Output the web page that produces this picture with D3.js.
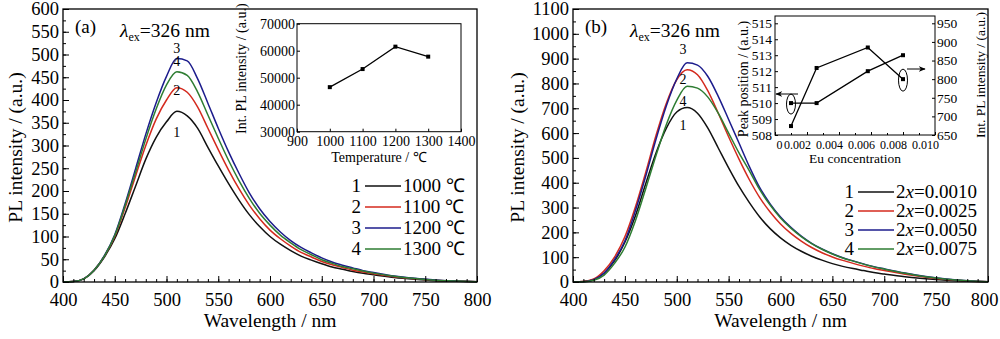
<!DOCTYPE html>
<html><head><meta charset="utf-8">
<script src="https://cdn.jsdelivr.net/npm/d3@7"></script>
<style>
body{margin:0;background:#fff;}
svg{display:block;}
text{font-family:"Liberation Serif","Times New Roman",serif;fill:#000;}
</style></head>
<body><svg id="c" width="1000" height="339"></svg>
<script>
// ---------- DATA ----------
const wavelengths = [400,410,420,430,440,450,460,470,480,490,500,510,520,530,540,550,560,570,580,590,600,610,620,630,640,650,660,670,680,690,700,720,740,760,780,800];

// Panel (a): annealing temperature series
const tempLabels = ["1000 \u2103","1100 \u2103","1200 \u2103","1300 \u2103"];
const a1 = [0,1,7,25,55,95,150,210,270,318,352,375,365,338,296,255,216,180,148,122,100,83,69,57,48,40,33,28,23,19,16,10,6,3,1.5,0.5];
const a2 = [0,1,7,26,57,100,163,232,300,358,400,427,417,385,338,291,246,205,169,139,114,95,79,65,55,45,38,32,26,22,18,11.5,7,4,2,0.5];
const a3 = [0,1,7,26,58,104,172,248,325,394,452,491,486,447,393,338,286,239,196,161,133,110,91,76,64,53,44,37,31,25,21,13,8,4.5,2,0.5];
const a4 = [0,1,7,26,57,102,168,240,314,380,433,462,454,418,367,316,267,223,184,151,125,103,86,71,60,49,41,34,29,24,19.5,12.5,7.5,4,2,0.5];

// Panel (b): Eu concentration series
const concLabels = ["2x=0.0010","2x=0.0025","2x=0.0050","2x=0.0075"];
const b1 = [0,2,10,35,85,160,265,395,520,620,685,703,680,620,540,460,385,320,262,215,178,148,124,104,88,74,63,54,46,38,32,21,13,7,3,1];
const b2 = [0,2,12,45,100,182,300,440,590,720,815,855,835,770,680,585,495,412,340,282,234,196,165,139,118,101,87,75,64,54,46,31,19,10,4,1];
const b3 = [0,1,9,36,90,165,285,425,575,710,818,883,874,828,748,655,560,465,380,315,262,220,185,156,133,114,98,85,73,62,53,36,22,12,5,1];
const b4 = [0,1,7,28,75,140,245,375,510,635,732,789,781,745,680,600,520,448,372,310,258,217,183,155,132,113,97,84,72,61,52,35,21,11,5,1];

const colors = ["#111111","#d42a1e","#1c1c8c","#2e7d32"];

// Insets
const insetTemp = [1000,1100,1200,1300];
const insetIntA = [46500,53200,61500,57800];
const euConc = [0.001,0.0026,0.0058,0.008];
const peakPos = [510,510,512,513];
const intPL = [674,830,885,800];

// ---------- DRAW ----------
const svg = d3.select("#c");
const FS = 18.5;

function panel(o){
  const g = svg.append("g");
  const x = d3.scaleLinear().domain([400,800]).range([o.x0,o.x1]);
  const y = d3.scaleLinear().domain([0,o.ymax]).range([o.y1,o.y0]);
  const line = d3.line().x((d,i)=>x(wavelengths[i])).y(d=>y(d)).curve(d3.curveMonotoneX);
  o.series.forEach((s,i)=>{
    g.append("path").attr("d",line(s)).attr("fill","none").attr("stroke",colors[i]).attr("stroke-width",1.5);
  });
  g.append("rect").attr("x",o.x0).attr("y",o.y0).attr("width",o.x1-o.x0).attr("height",o.y1-o.y0)
    .attr("fill","none").attr("stroke","#000").attr("stroke-width",1.3);
  g.append("g").attr("class","xt").attr("transform",`translate(0,${o.y1})`)
    .call(d3.axisBottom(x).tickValues(d3.range(400,801,50)).tickSize(-6).tickPadding(11).tickFormat(d3.format("d")));
  g.append("g").attr("transform",`translate(0,${o.y1})`)
    .call(d3.axisBottom(x).tickValues(d3.range(400,801,10)).tickSize(-3).tickFormat(""));
  g.append("g").attr("transform",`translate(${o.x0},0)`)
    .call(d3.axisLeft(y).tickValues(d3.range(0,o.ymax+1,o.ystep)).tickSize(-6).tickPadding(4).tickFormat(d3.format("d")));
  g.append("g").attr("transform",`translate(${o.x0},0)`)
    .call(d3.axisLeft(y).tickValues(d3.range(0,o.ymax+1,o.ystep/2)).tickSize(-3).tickFormat(""));
  g.selectAll(".domain").remove();
  g.selectAll(".tick line").attr("stroke","#000").attr("stroke-width",1);
  g.selectAll(".tick text").attr("font-size",FS).attr("font-family","Liberation Serif").attr("fill","#000");
  if(o.lastShift) g.selectAll(".xt .tick:last-of-type text").attr("dx",o.lastShift);
  g.append("text").attr("x",(o.x0+o.x1)/2).attr("y",327).attr("text-anchor","middle").attr("font-size",19.5).text("Wavelength / nm");
  g.append("text").attr("transform",`translate(${o.x0-o.ytOff},${(o.y0+o.y1)/2+2}) rotate(-90)`).attr("text-anchor","middle").attr("font-size",19.5).text("PL intensity / (a.u.)");
  g.append("text").attr("x",o.x0+12).attr("y",33).attr("font-size",19).text(o.tag);
  const ex = g.append("text").attr("x",o.x0+57).attr("y",37).attr("font-size",19.5);
  ex.append("tspan").attr("font-style","italic").text("\u03BB");
  ex.append("tspan").attr("font-size",12).attr("dy",4).text("ex");
  ex.append("tspan").attr("dy",-4).text("=326 nm");
  o.nums.forEach(n=>{
    g.append("text").attr("x",x(n[1])).attr("y",n[2]).attr("text-anchor","middle").attr("font-size",14).text(n[0]);
  });
  o.legend.forEach((t,i)=>{
    const ly = o.ly + i*o.lstep;
    g.append("text").attr("x",o.lx-4).attr("y",ly+6).attr("text-anchor","end").attr("font-size",19).text(i+1);
    g.append("line").attr("x1",o.lx).attr("x2",o.lx+36).attr("y1",ly).attr("y2",ly).attr("stroke",colors[i]).attr("stroke-width",1.5);
    const tt = g.append("text").attr("x",o.lx+38).attr("y",ly+6).attr("font-size",19);
    if(t.startsWith("2x")){
      tt.append("tspan").text("2");
      tt.append("tspan").attr("font-style","italic").text("x");
      tt.append("tspan").text(t.slice(2));
    } else tt.text(t);
  });
  return {x,y};
}

panel({x0:63,x1:477,y0:9,y1:282,ymax:600,ystep:50,series:[a1,a2,a3,a4],tag:"(a)",ytOff:41,
  nums:[["3",510,53],["4",510,66],["2",510,95],["1",510,137]],
  legend:tempLabels,lx:365,ly:186,lstep:21});
panel({x0:573,x1:988,y0:9,y1:282,ymax:1100,ystep:100,series:[b1,b2,b3,b4],tag:"(b)",ytOff:49,lastShift:-4,
  nums:[["3",506,54],["2",506,84],["4",506,106],["1",506,130]],
  legend:concLabels,lx:858,ly:192,lstep:19});

// ---------- Inset (a) ----------
(function(){
  const g = svg.append("g");
  const x0=297,x1=461,y0=23.7,y1=131.7;
  const x = d3.scaleLinear().domain([900,1400]).range([x0,x1]);
  const y = d3.scaleLinear().domain([30000,70000]).range([y1,y0]);
  g.append("rect").attr("x",x0).attr("y",y0).attr("width",x1-x0).attr("height",y1-y0).attr("fill","#fff").attr("stroke","#000").attr("stroke-width",1);
  g.append("g").attr("transform",`translate(0,${y1})`).call(d3.axisBottom(x).tickValues(d3.range(900,1401,100)).tickSize(-3).tickPadding(4).tickFormat(d3.format("d")));
  g.append("g").attr("transform",`translate(${x0},0)`).call(d3.axisLeft(y).tickValues(d3.range(30000,70001,10000)).tickSize(-3).tickPadding(2).tickFormat(d3.format("d")));
  g.selectAll(".domain").remove();
  g.selectAll(".tick line").attr("stroke","#000");
  g.selectAll(".tick text").attr("font-size",14).attr("font-family","Liberation Serif").attr("fill","#000");
  const line = d3.line().x((d,i)=>x(insetTemp[i])).y(d=>y(d));
  g.append("path").attr("d",line(insetIntA)).attr("fill","none").attr("stroke","#000").attr("stroke-width",1.3);
  g.selectAll("rect.m").data(insetIntA).enter().append("rect").attr("class","m")
    .attr("x",(d,i)=>x(insetTemp[i])-2).attr("y",d=>y(d)-2).attr("width",4).attr("height",4).attr("fill","#000");
  g.append("text").attr("x",(x0+x1)/2).attr("y",162).attr("text-anchor","middle").attr("font-size",14).text("Temperature / \u2103");
  g.append("text").attr("transform",`translate(${x0-51},${(y0+y1)/2-9}) rotate(-90)`).attr("text-anchor","middle").attr("font-size",14).text("Int. PL intensity / (a.u.)");
})();

// ---------- Inset (b) ----------
(function(){
  const g = svg.append("g");
  const x0=775,x1=935,y0=16,y1=135;
  const x = d3.scaleLinear().domain([0,0.010]).range([x0,x1]);
  const yl = d3.scaleLinear().domain([508,515]).range([y1,23.3]);
  const yr = d3.scaleLinear().domain([650,950]).range([y1,23.3]);
  g.append("rect").attr("x",x0).attr("y",y0).attr("width",x1-x0).attr("height",y1-y0).attr("fill","#fff").attr("stroke","#000").attr("stroke-width",1);
  const xa = g.append("g").attr("transform",`translate(0,${y1})`).call(d3.axisBottom(x).tickValues(d3.range(0,0.0101,0.002)).tickSize(-3).tickPadding(5.5).tickFormat(d=>d===0?"0":d3.format(".3f")(d)));
  xa.selectAll(".tick text").attr("dx",d=>d===0?4:-10);
  g.append("g").attr("transform",`translate(0,${y1})`).call(d3.axisBottom(x).tickValues(d3.range(0.001,0.0101,0.002)).tickSize(-2).tickFormat(""));
  g.append("g").attr("transform",`translate(${x0},0)`).call(d3.axisLeft(yl).tickValues(d3.range(508,515.1,1)).tickSize(-3).tickPadding(3).tickFormat(d3.format("d")));
  g.append("g").attr("transform",`translate(${x1},0)`).call(d3.axisRight(yr).tickValues(d3.range(650,951,50)).tickSize(-3).tickPadding(2).tickFormat(d3.format("d")));
  g.selectAll(".domain").remove();
  g.selectAll(".tick line").attr("stroke","#000");
  g.selectAll(".tick text").attr("font-size",13.5).attr("font-family","Liberation Serif").attr("fill","#000");
  xa.selectAll(".tick text").attr("font-size",12);
  const l1 = d3.line().x((d,i)=>x(euConc[i])).y(d=>yl(d));
  const l2 = d3.line().x((d,i)=>x(euConc[i])).y(d=>yr(d));
  g.append("path").attr("d",l1(peakPos)).attr("fill","none").attr("stroke","#000").attr("stroke-width",1.3);
  g.append("path").attr("d",l2(intPL)).attr("fill","none").attr("stroke","#000").attr("stroke-width",1.3);
  g.selectAll("rect.m1").data(peakPos).enter().append("rect").attr("x",(d,i)=>x(euConc[i])-2).attr("y",d=>yl(d)-2).attr("width",4).attr("height",4);
  g.selectAll("rect.m2").data(intPL).enter().append("rect").attr("x",(d,i)=>x(euConc[i])-2).attr("y",d=>yr(d)-2).attr("width",4).attr("height",4);
  const defs = svg.append("defs");
  defs.append("marker").attr("id","ah").attr("viewBox","0 0 10 10").attr("refX",9).attr("refY",5).attr("markerWidth",7).attr("markerHeight",7).attr("orient","auto")
    .append("path").attr("d","M0,1 L10,5 L0,9 L3,5 Z").attr("fill","#000");
  g.append("ellipse").attr("cx",x(euConc[0])).attr("cy",yl(peakPos[0])+1).attr("rx",4.5).attr("ry",10).attr("fill","none").attr("stroke","#000");
  g.append("ellipse").attr("cx",x(euConc[3])).attr("cy",yr(intPL[3])+1).attr("rx",4.5).attr("ry",11).attr("fill","none").attr("stroke","#000");
  g.append("line").attr("x1",x(euConc[0])+7).attr("x2",x0+1).attr("y1",94).attr("y2",94).attr("stroke","#000").attr("marker-end","url(#ah)");
  g.append("line").attr("x1",x(euConc[3])+4).attr("x2",x1-10).attr("y1",69).attr("y2",69).attr("stroke","#000").attr("marker-end","url(#ah)");
  g.append("text").attr("x",(x0+x1)/2).attr("y",163).attr("text-anchor","middle").attr("font-size",13.5).text("Eu concentration");
  g.append("text").attr("transform",`translate(${x0-27},79) rotate(-90)`).attr("text-anchor","middle").attr("font-size",14).text("Peak position / (a.u.)");
  g.append("text").attr("transform",`translate(${x1+50},75) rotate(-90)`).attr("text-anchor","middle").attr("font-size",13.5).text("Int. PL intensity / (a.u.)");
})();
</script></body></html>
